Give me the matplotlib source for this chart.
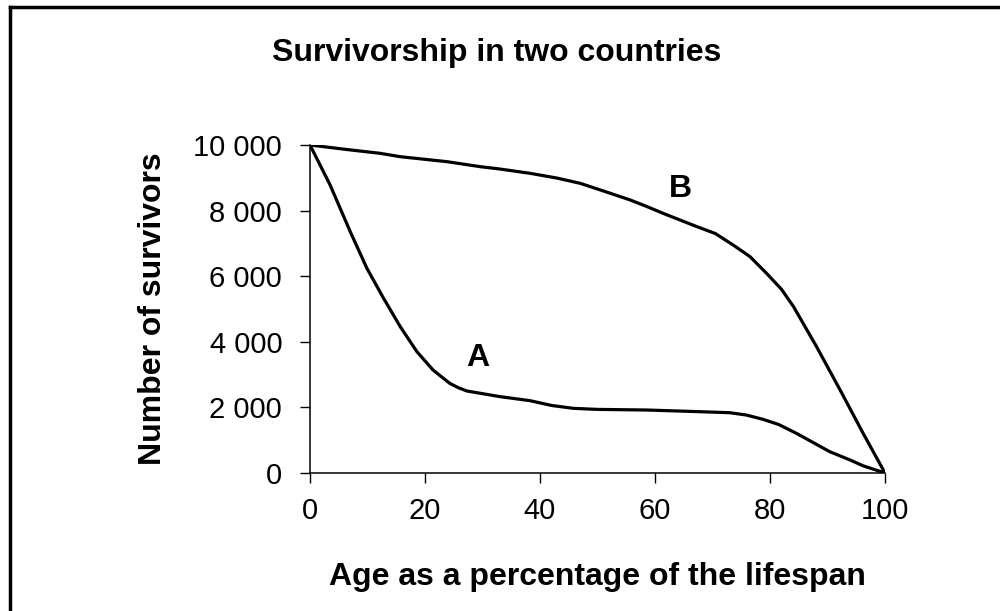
import matplotlib
matplotlib.use("Agg")
import matplotlib.pyplot as plt
from matplotlib.lines import Line2D
from matplotlib.ticker import FuncFormatter

plt.rcParams["font.family"] = ["Liberation Sans", "DejaVu Sans"]

# values
age_a = [0, 3.5, 7.0, 9.9, 12.8, 15.7, 18.6, 21.4, 24.3, 25.8, 27.3, 30, 33, 38.3, 42, 45.8,
         50, 58.6, 67.8, 73, 75.9, 78.8, 81.5, 84.6, 87.5, 90.4, 93.9, 96.2, 100]
surv_a = [10000, 8780, 7357, 6240, 5326, 4460, 3698, 3140, 2735, 2601, 2500, 2420, 2330, 2205, 2060, 1972,
          1940, 1921, 1870, 1839, 1768, 1636, 1480, 1210, 930, 650, 400, 220, 0]

age_b = [0, 6, 12.2, 15.7, 23.8, 29.6, 33, 38.3, 43, 47, 51, 55.7, 58.5, 61.4, 67.3,
         70.5, 73.6, 76.5, 79.4, 82, 84.1, 88.1, 92.2, 96.2, 100]
surv_b = [10000, 9870, 9746, 9643, 9492, 9339, 9268, 9136, 8990, 8831, 8600, 8323, 8130, 7917, 7510,
          7300, 6950, 6600, 6088, 5600, 5070, 3851, 2530, 1210, 0]

x_ticks = [0, 20, 40, 60, 80, 100]
y_ticks = [0, 2000, 4000, 6000, 8000, 10000]

fig = plt.figure(figsize=(10, 6.11), dpi=100)
ax = fig.add_axes([0.31, 0.2258, 0.575, 0.5369])

ax.plot(age_a, surv_a, color="black", linewidth=2.3, solid_joinstyle="round")
ax.plot(age_b, surv_b, color="black", linewidth=2.3, solid_joinstyle="round")

ax.text(29.2, 3500, "A", fontsize=23, fontweight="bold", ha="center", va="center")
ax.text(64.5, 8650, "B", fontsize=23, fontweight="bold", ha="center", va="center")

ax.set_xlim(0, 100)
ax.set_ylim(0, 10000)
ax.set_xticks(x_ticks)
ax.set_yticks(y_ticks)
ax.yaxis.set_major_formatter(FuncFormatter(lambda v, p: f"{int(v):,}".replace(",", " ")))
ax.tick_params(direction="out", length=7, width=1, labelsize=21)
ax.tick_params(axis="y", pad=13)
ax.tick_params(axis="x", pad=10)

for side in ["top", "right"]:
    ax.spines[side].set_visible(False)
for side in ["left", "bottom"]:
    ax.spines[side].set_linewidth(1.1)

ax.set_xlabel("Age as a percentage of the lifespan", fontsize=23, fontweight="bold", labelpad=27)
ax.set_ylabel("Number of survivors", fontsize=23, fontweight="bold", labelpad=18)
fig.text(0.497, 0.913, "Survivorship in two countries", fontsize=23, fontweight="bold",
         ha="center", va="center")

# partial frame around the chart (top and left edges visible)
fig.add_artist(Line2D([0.0095, 1.0], [1 - 7 / 611, 1 - 7 / 611], color="black", linewidth=2.5,
                      transform=fig.transFigure))
fig.add_artist(Line2D([0.0095, 0.0095], [0.0, 1 - 7 / 611], color="black", linewidth=2.5,
                      transform=fig.transFigure))

fig.savefig("out.png", dpi=100)
